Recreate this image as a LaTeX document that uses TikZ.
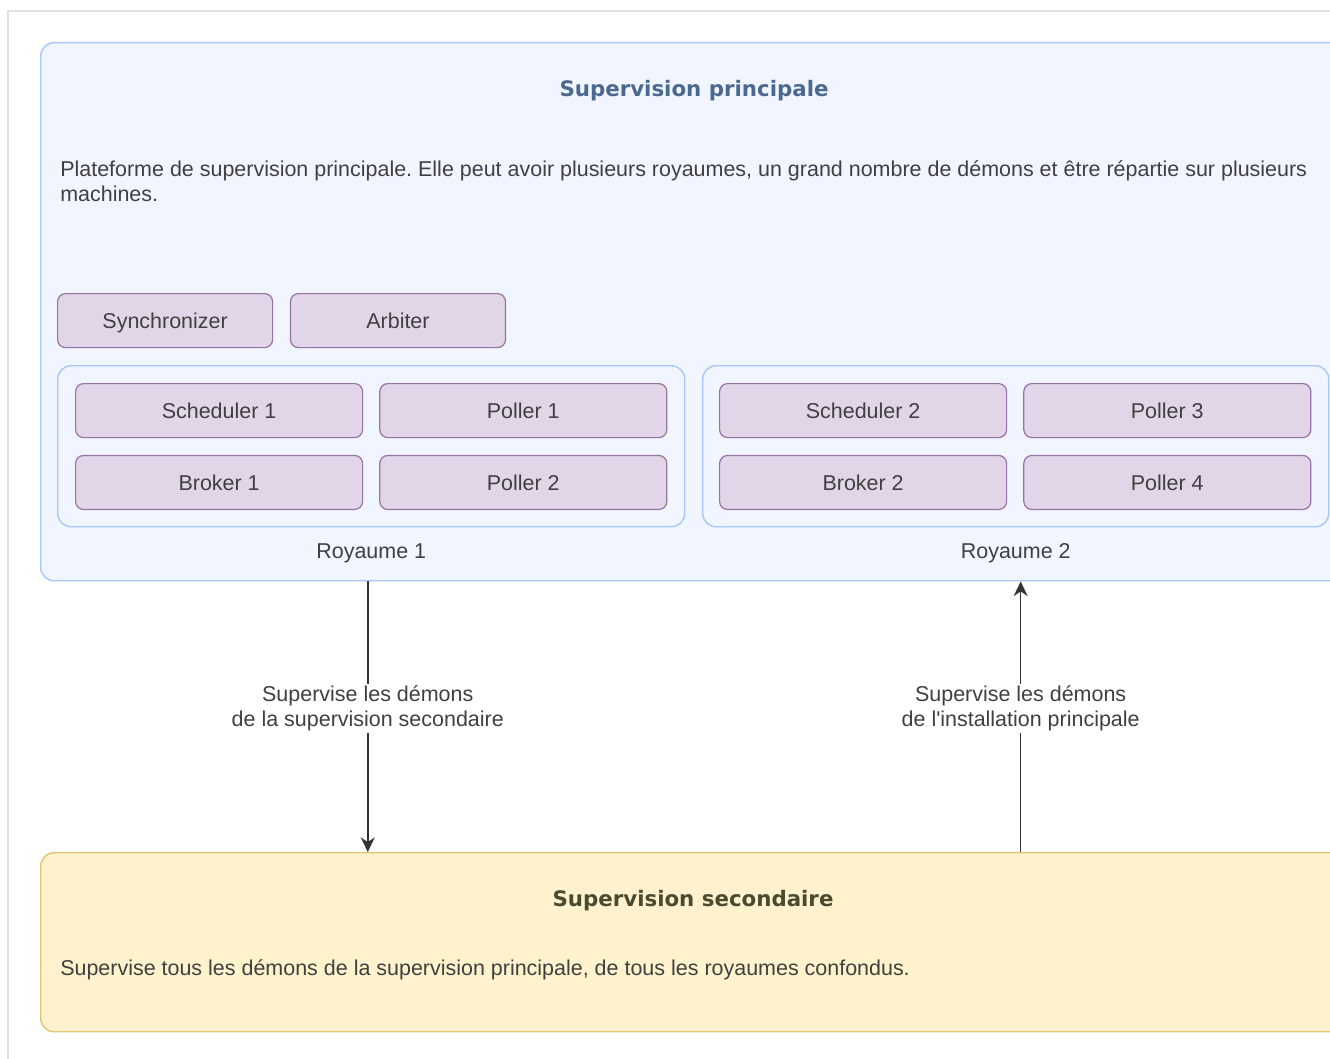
\documentclass[tikz,border=0pt]{standalone}
\usepackage{fontspec}
\setmainfont{Liberation Sans}
\newfontfamily\headfont{DejaVu Sans}
\usetikzlibrary{positioning,arrows.meta}
\frenchspacing

\definecolor{framegray}{HTML}{E0E0E6}
\definecolor{panelfill}{HTML}{F0F5FF}
\definecolor{panelline}{HTML}{A8C8FA}
\definecolor{daemonfill}{HTML}{E1D5E7}
\definecolor{daemonline}{HTML}{9673A6}
\definecolor{backupfill}{HTML}{FFF2CC}
\definecolor{backupline}{HTML}{E3C670}
\definecolor{titleblue}{HTML}{4B6891}
\definecolor{titleolive}{HTML}{4A4A30}
\definecolor{textgray}{HTML}{404040}
\definecolor{arrowgray}{HTML}{333333}

\tikzset{
  panel/.style={draw=panelline, fill=panelfill, line width=1.1pt, rounded corners=10pt,
    inner sep=0pt, anchor=north west},
  backup/.style={draw=backupline, fill=backupfill, line width=1.1pt, rounded corners=10pt,
    inner sep=0pt, anchor=north west},
  daemon/.style={draw=daemonline, fill=daemonfill, line width=0.9pt, rounded corners=6pt,
    minimum width=215.25pt, minimum height=40.5pt, inner sep=0pt, text=textgray,
    text depth=0pt, font=\fontsize{16.1}{19}\selectfont},
  headtext/.style={font=\headfont\bfseries\fontsize{16}{19}\selectfont},
  bodytext/.style={text=textgray, font=\fontsize{16.1}{18.75}\selectfont, inner sep=0pt},
  flow/.style={draw=arrowgray, line width=1.1pt, -{Stealth[length=11pt,width=10.5pt]}},
  flowlabel/.style={fill=white, align=center, text=textgray, font=\fontsize{16.1}{19}\selectfont,
    inner sep=1pt}
}

\begin{document}
\begin{tikzpicture}[x=0.75pt, y=-0.75pt, node distance=12pt]

\useasboundingbox (0,0) rectangle (1330,1059);

% Outer frame
\draw[framegray, line width=1.5pt] (8,1100) -- (8,11) -- (1400,11);

% Main platform
\node[panel, minimum width=981pt, minimum height=403.5pt] (main) at (40,42) {};
\node[headtext, text=titleblue] (maintitle) at (694,91) {Supervision principale};
\node[bodytext, anchor=north west, align=left] (maindesc) at (60,160)
  {Plateforme de supervision principale. Elle peut avoir plusieurs royaumes, un grand nombre de démons et être répartie sur plusieurs\\machines.};

% Global daemons
\node[daemon, minimum width=161.25pt, anchor=north west] (sync) at (57,293) {Synchronizer};
\node[daemon, minimum width=161.25pt, right=12.5pt of sync] (arbiter) {Arbiter};

% Realm 1
\node[panel, minimum width=470.25pt, minimum height=120.75pt] (r1) at (57,365) {};
\node[daemon, anchor=north west] (sched1) at (75,383) {Scheduler 1};
\node[daemon, right=of sched1] (poller1) {Poller 1};
\node[daemon, below=12.5pt of sched1] (broker1) {Broker 1};
\node[daemon, below=12.5pt of poller1] (poller2) {Poller 2};
\node[bodytext, text depth=0pt, below=12pt of r1] (r1lbl) {Royaume 1};

% Realm 2
\node[panel, minimum width=469.5pt, minimum height=120.75pt] (r2) at (702,365) {};
\node[daemon, anchor=north west] (sched2) at (719,383) {Scheduler 2};
\node[daemon, right=of sched2] (poller3) {Poller 3};
\node[daemon, below=12.5pt of sched2] (broker2) {Broker 2};
\node[daemon, below=12.5pt of poller3] (poller4) {Poller 4};
\node[bodytext, text depth=0pt, below=12pt of r2] (r2lbl) {Royaume 2};

% Secondary platform
\node[backup, minimum width=981pt, minimum height=134.25pt] (sec) at (40,852) {};
\node[headtext, text=titleolive] (sectitle) at (693,901) {Supervision secondaire};
\node[bodytext, anchor=west] (secdesc) at (60,970)
  {Supervise tous les démons de la supervision principale, de tous les royaumes confondus.};

% Links
\draw[flow] ([xshift=-2.6pt]main.south -| r1.south) -- ([xshift=-2.6pt]sec.north -| r1.south)
  node[flowlabel, pos=0.47] {Supervise les démons\\de la supervision secondaire};
\draw[flow] ([xshift=3.7pt]sec.north -| r2.south) -- ([xshift=3.7pt]main.south -| r2.south)
  node[flowlabel, pos=0.53] {Supervise les démons\\de l\textquotesingle installation principale};

\end{tikzpicture}
\end{document}
